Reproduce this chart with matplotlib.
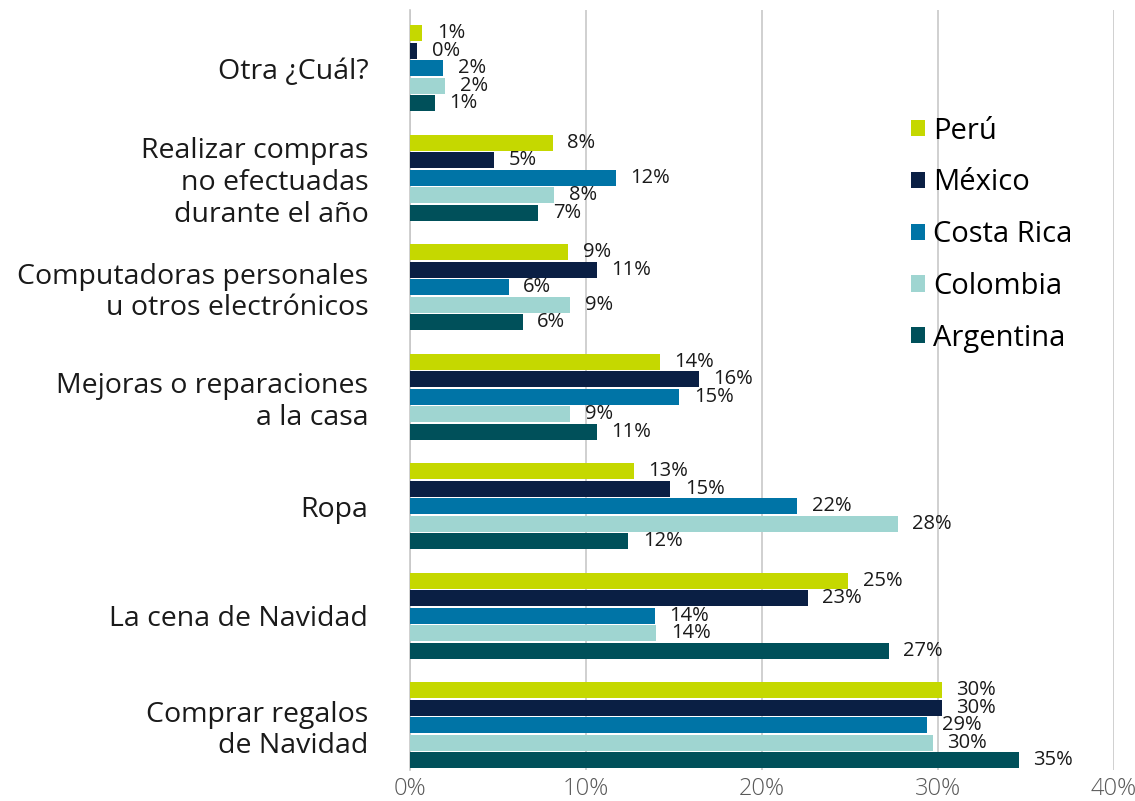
import matplotlib.pyplot as plt
import numpy as np

plt.rcParams['font.family'] = ['Open Sans', 'DejaVu Sans']

# categories top to bottom
categories = [
    "Otra ¿Cuál?",
    "Realizar compras\nno efectuadas\ndurante el año",
    "Computadoras personales\nu otros electrónicos",
    "Mejoras o reparaciones\na la casa",
    "Ropa",
    "La cena de Navidad",
    "Comprar regalos\nde Navidad",
]
countries = ["Perú", "México", "Costa Rica", "Colombia", "Argentina"]

# percent values per country, same order as categories
peru = [0.7, 8.1, 9.0, 14.2, 12.7, 24.9, 30.2]
mexico = [0.4, 4.8, 10.6, 16.4, 14.8, 22.6, 30.2]
costa_rica = [1.9, 11.7, 5.6, 15.3, 22.0, 13.9, 29.4]
colombia = [2.0, 8.2, 9.1, 9.1, 27.7, 14.0, 29.7]
argentina = [1.4, 7.3, 6.4, 10.6, 12.4, 27.2, 34.6]

colors = ["#C5D800", "#0A1F44", "#0074A6", "#9FD5D1", "#00505A"]
series = [peru, mexico, costa_rica, colombia, argentina]

fig = plt.figure(figsize=(11.35, 8.01), dpi=100)
ax = fig.add_axes([410 / 1135, 1 - 770 / 801, 704 / 1135, 760 / 801])

n = len(categories)
ypos = np.arange(n)[::-1]  # top category gets highest y
pitch = 0.16
bh = 0.146

for k, (vals, col, name) in enumerate(zip(series, colors, countries)):
    y = ypos + (2 - k) * pitch
    bars = ax.barh(y, vals, height=bh, color=col, label=name, zorder=3)
    for b, v in zip(bars, vals):
        ax.annotate(f"{v:.0f}%", (b.get_width(), b.get_y() + b.get_height() / 2),
                    xytext=(10.5, 0), textcoords="offset points",
                    va="center", ha="left", fontsize=14.5, color="#1a1a1a", zorder=4)

ax.set_xlim(0, 40)
ax.set_ylim(-0.41, 6.53)
ax.set_xticks([0, 10, 20, 30, 40])
ax.set_xticklabels(["0%", "10%", "20%", "30%", "40%"], fontsize=17, color="#595959",
                   fontweight="light")
ax.set_yticks(ypos)
ax.set_yticklabels(categories, fontsize=20.5, color="#1a1a1a", multialignment="right",
                   linespacing=1.18)
ax.tick_params(axis="both", length=0)
ax.tick_params(axis="y", pad=30)
ax.tick_params(axis="x", pad=5)

ax.grid(axis="x", color="#c8c8c8", linewidth=1.2, zorder=0)
for s in ["top", "right", "bottom"]:
    ax.spines[s].set_visible(False)
ax.spines["left"].set_color("#c8c8c8")
ax.spines["left"].set_linewidth(1.2)

handles, labels = ax.get_legend_handles_labels()
leg = ax.legend(handles, labels, loc="upper left", bbox_to_anchor=(896 / 1135, 1 - 102 / 801),
                bbox_transform=fig.transFigure, frameon=False, fontsize=21,
                handlelength=0.48, handleheight=0.48, handletextpad=0.3,
                labelspacing=0.78, borderpad=0)

fig.savefig("out.png", dpi=100)
